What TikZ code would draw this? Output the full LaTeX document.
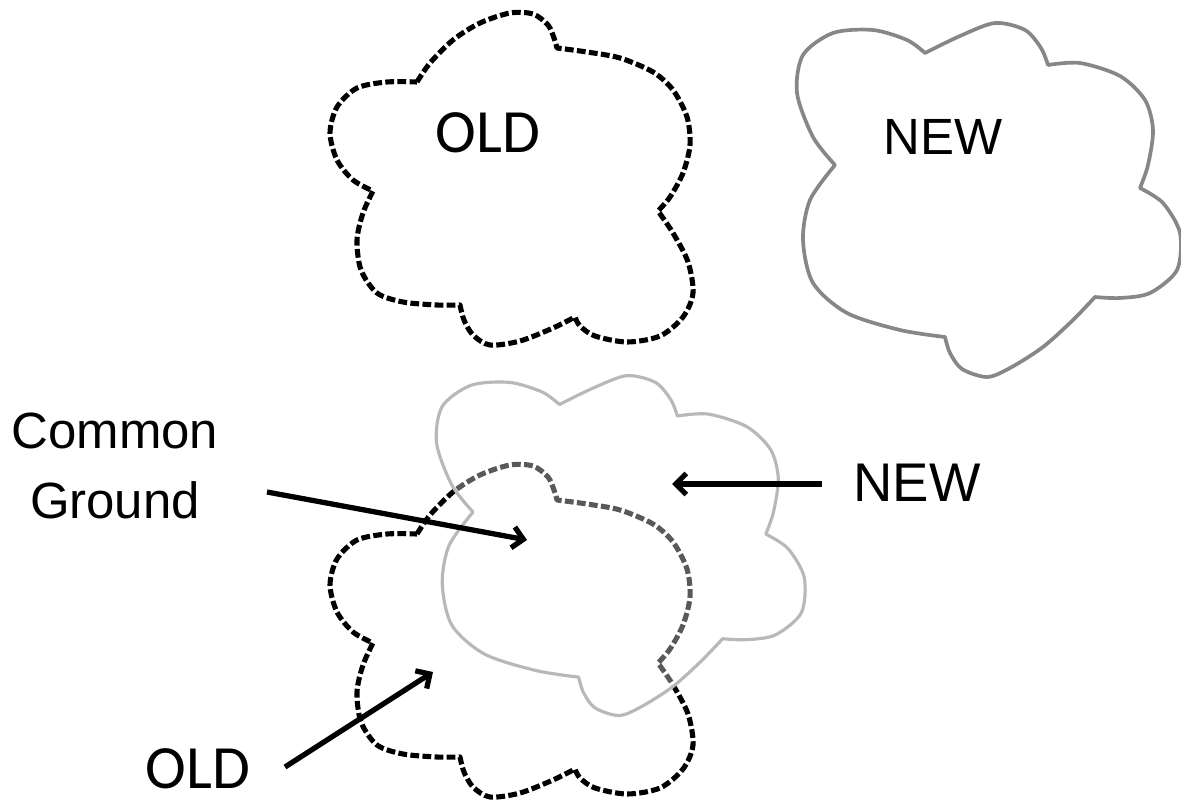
\documentclass[tikz,border=0pt]{standalone}
\usepackage{fontspec}
\setmainfont{Liberation Sans}
\newfontfamily\carlito{Carlito}
\usetikzlibrary{arrows.meta}

\newcommand\oldcloud{(417,82)
  -- plot[smooth] coordinates {(417,82) (430,63) (453,40) (480,23) (510,13) (533,14) (548,25) (554,38) (557,48)}
  -- plot[smooth] coordinates {(557,48) (587,52) (620,58) (653,72) (673,90) (687,117) (690,145) (683,173) (670,197) (658,211)}
  -- plot[smooth] coordinates {(658,211) (673,233) (688,262) (693,293) (683,317) (660,336) (627,342) (595,336) (580,326) (575,317)}
  -- plot[smooth] coordinates {(575,317) (553,328) (520,341) (490,345) (473,335) (464,320) (460,305)}
  -- plot[smooth] coordinates {(460,305) (437,305) (403,302) (377,293) (361,270) (357,240) (363,213) (373,191)}
  -- plot[smooth] coordinates {(373,191) (353,180) (337,160) (330,133) (337,107) (357,88) (387,82) (417,82)} -- cycle}
\newcommand\newcloud{(835,165)
  -- plot[smooth] coordinates {(835,165) (813,137) (797,93) (803,55) (833,33) (873,30) (907,40) (925,53)}
  -- plot[smooth] coordinates {(925,53) (960,36) (995,23) (1025,30) (1041,48) (1048,65)}
  -- plot[smooth] coordinates {(1048,65) (1080,63) (1120,76) (1145,100) (1153,130) (1148,165) (1140,188)}
  -- plot[smooth] coordinates {(1140,188) (1163,203) (1180,233) (1177,270) (1150,293) (1120,298) (1095,297)}
  -- plot[smooth] coordinates {(1095,297) (1073,320) (1043,347) (1010,368) (987,377) (962,369) (950,353) (945,337)}
  -- plot[smooth] coordinates {(945,337) (900,330) (847,313) (813,283) (803,240) (810,200) (835,165)} -- cycle}

\begin{document}
\begin{tikzpicture}
  [x=0.02cm,y=-0.02cm,
   oldline/.style={line width=2.9pt,dash pattern=on 5pt off 1.9pt,line join=round},
   newline/.style={line width=2.1pt,draw=black!47,line join=round},
   pointer/.style={line width=3pt,-{Straight Barb[length=6pt,width=12pt]}},
   oldlabel/.style={font=\carlito\fontsize{35}{40}\selectfont,inner sep=0pt},
   newlabel/.style={font=\fontsize{29}{40}\selectfont,align=center,inner sep=0pt}]

  \useasboundingbox (0,0) rectangle (1181,801);

  \draw[oldline] \oldcloud;
  \draw[newline] \newcloud;

  \begin{scope}[shift={(0,452)}]
    \draw[oldline] \oldcloud;
  \end{scope}
  \begin{scope}[shift={(-328.6,353.6)},scale=0.96]
    \fill[white,opacity=0.35] \newcloud;
    \draw[newline,draw=black!28,line width=1.8pt] \newcloud;
  \end{scope}

  \node[oldlabel] (oldtop) at (488,133) {OLD};
  \node[newlabel] (newtop) at (943,137) {NEW};
  \node[newlabel] (common) at (115,466) {Common\\Ground};
  \node[newlabel,font=\fontsize{31}{40}\selectfont] (newbot) at (917,483) {NEW};
  \node[oldlabel] (oldbot) at (198,769) {OLD};

  \coordinate (cgtail) at (267,492);
  \coordinate (cgtip) at (527,540);
  \coordinate (newtail) at (822,484);
  \coordinate (newtip) at (672,484);
  \coordinate (oldtail) at (285,767);
  \coordinate (oldtip) at (433,672);

  \draw[pointer] (cgtail) -- (cgtip);
  \draw[pointer] (newtail) -- (newtip);
  \draw[pointer] (oldtail) -- (oldtip);

\end{tikzpicture}
\end{document}
